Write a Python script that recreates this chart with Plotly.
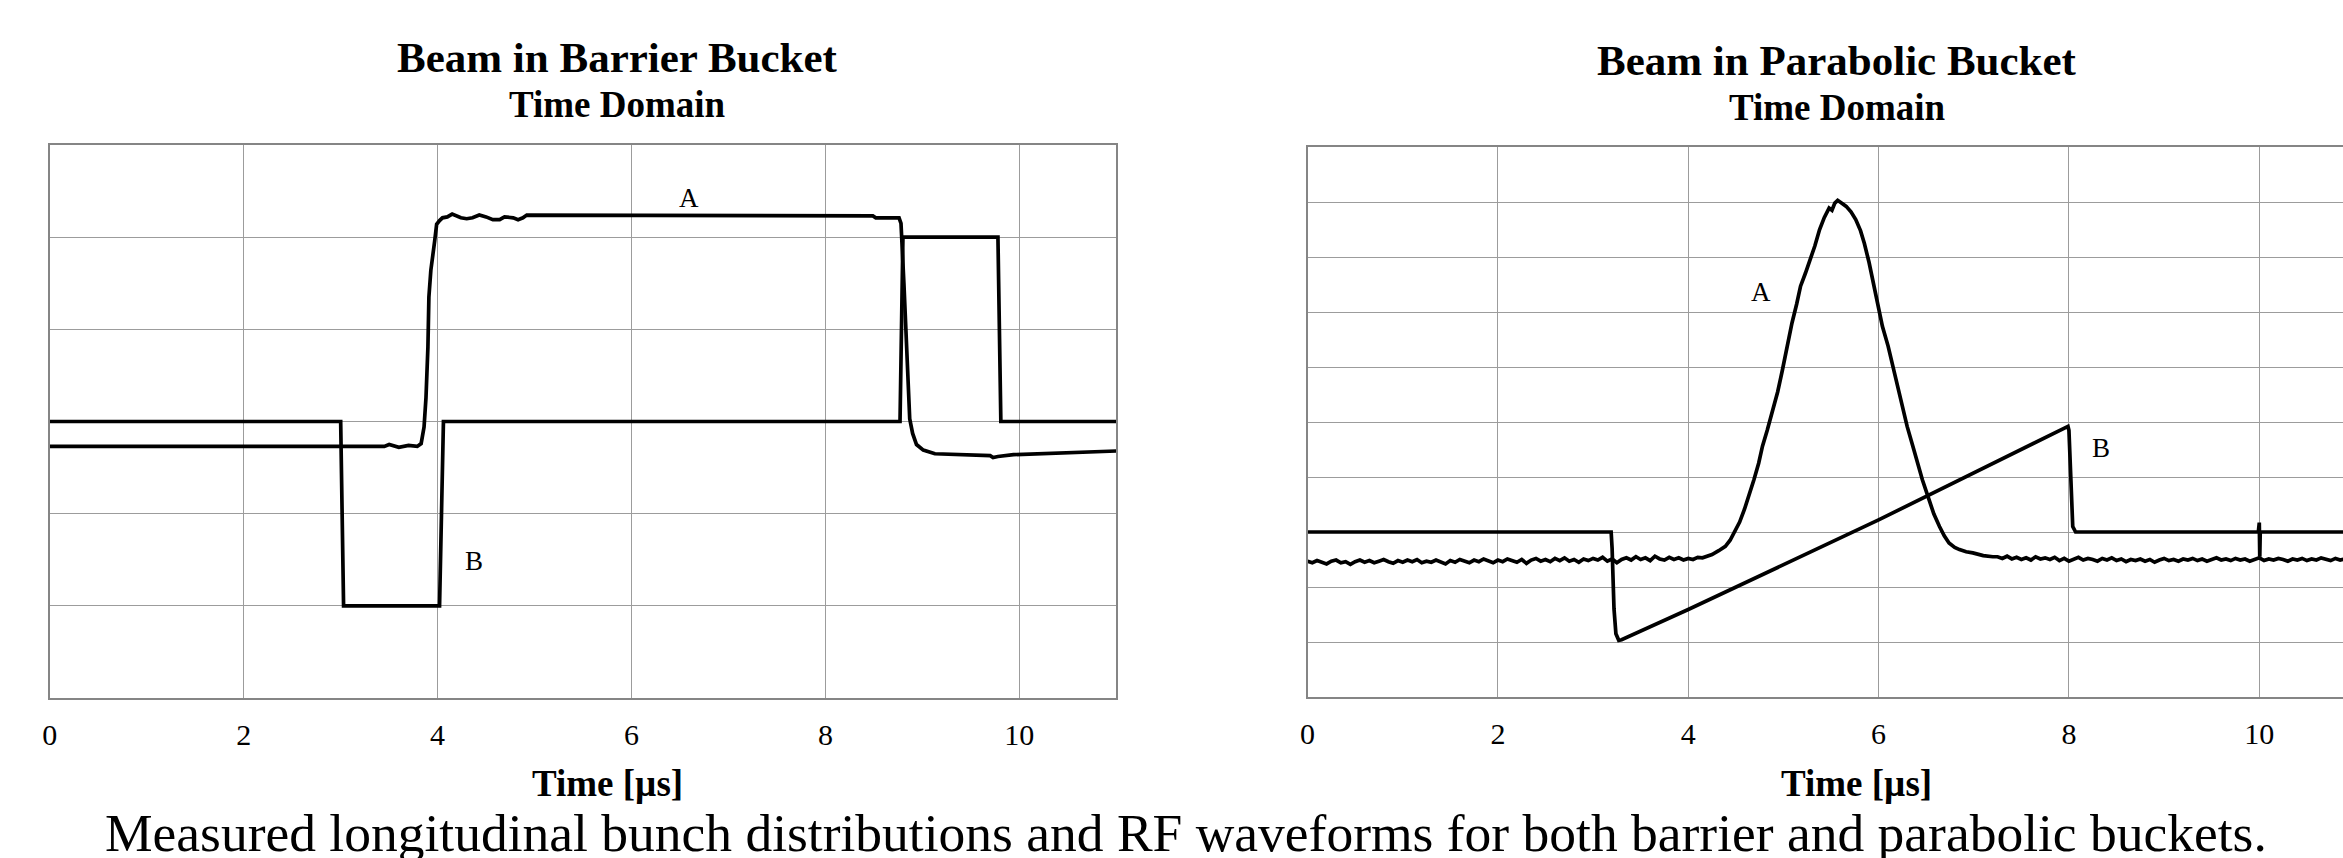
import plotly.graph_objects as go

W, H = 2343, 858

# ---------------- Data: Beam in Barrier Bucket (left) ----------------
bar_A_t = [0.0, 3.45, 3.50, 3.60, 3.70, 3.79, 3.83, 3.86, 3.88, 3.90, 3.91, 3.93, 3.97, 3.99,
           4.02, 4.05, 4.10, 4.15, 4.24, 4.30, 4.36, 4.43, 4.50, 4.57, 4.64, 4.69, 4.78, 4.83,
           4.88, 4.92, 8.49, 8.52, 8.76, 8.78, 8.81, 8.84, 8.87, 8.90, 8.94, 9.01, 9.13, 9.70,
           9.73, 9.78, 9.94, 11.0]
bar_A_v = [2.73, 2.73, 2.75, 2.72, 2.74, 2.73, 2.76, 2.94, 3.26, 3.81, 4.35, 4.64, 4.96, 5.14,
           5.18, 5.21, 5.22, 5.25, 5.21, 5.20, 5.21, 5.24, 5.22, 5.19, 5.19, 5.22, 5.21, 5.19,
           5.21, 5.24, 5.23, 5.21, 5.21, 5.15, 4.50, 3.75, 3.03, 2.87, 2.75, 2.69, 2.65, 2.63,
           2.61, 2.62, 2.64, 2.68]
bar_B_t = [0.0, 3.00, 3.03, 4.02, 4.06, 8.77, 8.80, 9.78, 9.81, 11.0]
bar_B_v = [3.0, 3.00, 1.00, 1.00, 3.00, 3.00, 5.00, 5.00, 3.00, 3.0]

# ---------------- Data: Beam in Parabolic Bucket (right) ----------------
# sampled bunch signal, baseline before the bunch (0.00 .. 4.20 us, every 0.05 us)
par_A_pre_v = [2.47, 2.44, 2.48, 2.45, 2.42, 2.47, 2.49, 2.44, 2.46, 2.41,
               2.46, 2.49, 2.45, 2.48, 2.44, 2.47, 2.50, 2.46, 2.43, 2.48,
               2.45, 2.49, 2.46, 2.50, 2.44, 2.47, 2.45, 2.49, 2.46, 2.42,
               2.48, 2.45, 2.50, 2.47, 2.44, 2.49, 2.46, 2.51, 2.47, 2.44,
               2.49, 2.46, 2.51, 2.48, 2.45, 2.50, 2.43, 2.49, 2.52, 2.47,
               2.50, 2.46, 2.52, 2.48, 2.53, 2.47, 2.50, 2.45, 2.51, 2.48,
               2.52, 2.49, 2.54, 2.47, 2.51, 2.44, 2.50, 2.53, 2.49, 2.55,
               2.50, 2.53, 2.48, 2.56, 2.51, 2.49, 2.54, 2.50, 2.53, 2.49,
               2.52, 2.50, 2.54, 2.53, 2.56]
par_A_peak_t = [4.25, 4.32, 4.39, 4.44, 4.48, 4.54, 4.59, 4.64, 4.69, 4.74, 4.78, 4.83, 4.88,
                4.94, 4.99, 5.04, 5.09, 5.14, 5.18, 5.23, 5.27, 5.33, 5.38, 5.43, 5.48, 5.51,
                5.54, 5.57, 5.61, 5.66, 5.71, 5.76, 5.81, 5.85, 5.90, 5.95, 6.00, 6.04, 6.10,
                6.15, 6.20, 6.25, 6.30, 6.36, 6.41, 6.46, 6.53, 6.58, 6.64, 6.69, 6.74, 6.80,
                6.85, 6.92, 6.99, 7.10, 7.20]
par_A_peak_v = [2.59, 2.66, 2.74, 2.85, 2.98, 3.18, 3.41, 3.67, 3.95, 4.25, 4.56, 4.85, 5.16,
                5.55, 5.95, 6.38, 6.80, 7.15, 7.47, 7.70, 7.89, 8.20, 8.50, 8.72, 8.89, 8.85,
                8.98, 9.03, 8.98, 8.92, 8.82, 8.68, 8.48, 8.25, 7.90, 7.47, 7.10, 6.74, 6.38,
                6.01, 5.65, 5.28, 4.92, 4.56, 4.25, 3.95, 3.59, 3.33, 3.10, 2.93, 2.80, 2.72,
                2.68, 2.64, 2.62, 2.57, 2.55]
# baseline after the bunch (7.25 .. 11.00 us, every 0.05 us)
par_A_post_v = [2.55, 2.52, 2.56, 2.51, 2.54, 2.50, 2.53, 2.49, 2.55, 2.51,
                2.53, 2.50, 2.54, 2.48, 2.52, 2.47, 2.51, 2.54, 2.49, 2.52,
                2.50, 2.47, 2.52, 2.49, 2.53, 2.48, 2.51, 2.46, 2.50, 2.48,
                2.51, 2.47, 2.50, 2.45, 2.49, 2.52, 2.48, 2.50, 2.47, 2.51,
                2.49, 2.52, 2.48, 2.51, 2.47, 2.50, 2.53, 2.49, 2.51, 2.48,
                2.52, 2.49, 2.51, 2.47, 2.50, 2.53, 2.48, 2.51, 2.49, 2.52,
                2.50, 2.47, 2.51, 2.49, 2.52, 2.48, 2.51, 2.49, 2.53, 2.50,
                2.48, 2.52, 2.49, 2.51, 2.50, 2.52]
par_B_t = [0.0, 3.19, 3.20, 3.22, 3.24, 3.27, 3.30, 4.00, 6.00, 7.99, 8.00, 8.02, 8.04, 8.07,
           9.99, 10.00, 10.005, 10.01, 11.0]
par_B_v = [3.0, 3.00, 2.70, 1.60, 1.15, 1.03, 1.04, 1.59, 3.22, 4.92, 4.85, 3.95, 3.10, 3.00,
           3.00, 3.17, 2.55, 3.00, 3.0]

tick_vals = [0, 2, 4, 6, 8, 10]
tick_text = ["0", "2", "4", "6", "8", "10"]

# assemble right-panel bunch trace (oscilloscope sample times)
par_A_t = ([round(0.05 * i, 2) for i in range(len(par_A_pre_v))] + par_A_peak_t +
           [round(7.25 + 0.05 * i, 2) for i in range(len(par_A_post_v))])
par_A_v = par_A_pre_v + par_A_peak_v + par_A_post_v

SERIF = "Liberation Serif, Times New Roman, serif"
LINE = dict(color="black", width=3.7)

fig = go.Figure()
fig.add_trace(go.Scatter(x=bar_A_t, y=bar_A_v, mode="lines", line=LINE, xaxis="x", yaxis="y",
                         showlegend=False, hoverinfo="skip"))
fig.add_trace(go.Scatter(x=bar_B_t, y=bar_B_v, mode="lines", line=LINE, xaxis="x", yaxis="y",
                         showlegend=False, hoverinfo="skip"))
fig.add_trace(go.Scatter(x=par_B_t, y=par_B_v, mode="lines", line=LINE, xaxis="x2", yaxis="y2",
                         showlegend=False, hoverinfo="skip"))
fig.add_trace(go.Scatter(x=par_A_t, y=par_A_v, mode="lines", line=LINE, xaxis="x2", yaxis="y2",
                         showlegend=False, hoverinfo="skip"))

def px_x(p):
    return p / W

def px_y(p):
    return 1 - p / H

GRID = "#9c9c9c"
FRAME = "#858585"
TICKFONT = dict(family=SERIF, size=30, color="black")

xcommon = dict(tickvals=tick_vals, ticktext=tick_text, showgrid=True, gridcolor=GRID, gridwidth=1,
               zeroline=False, showline=True, linecolor=FRAME, linewidth=2, mirror=True,
               ticks="outside", ticklen=9, tickcolor="rgba(0,0,0,0)", tickfont=TICKFONT,
               fixedrange=True)
ycommon = dict(showgrid=True, gridcolor=GRID, gridwidth=1, zeroline=False, showticklabels=False,
               showline=True, linecolor=FRAME, linewidth=2, dtick=1, fixedrange=True)

fig.update_layout(
    width=W, height=H, margin=dict(l=0, r=0, t=0, b=0),
    paper_bgcolor="white", plot_bgcolor="white",
    xaxis=dict(domain=[px_x(42), px_x(1112)], range=[0, 11], anchor="y", **xcommon),
    yaxis=dict(domain=[px_y(698), px_y(145)], range=[0, 6], anchor="x", mirror=True,
               **ycommon),
    xaxis2=dict(domain=[px_x(1304), 1.0], range=[0, (W - 1304) / 95.5], anchor="y2",
                **xcommon),
    yaxis2=dict(domain=[px_y(697), px_y(147)], range=[0, 10], anchor="x2", mirror=False,
                **ycommon),
)

ann = []
def title(text, x, y, size, bold=True):
    ann.append(dict(text=f"<b>{text}</b>" if bold else text, x=px_x(x), y=px_y(y), xref="paper",
                    yref="paper", showarrow=False, xanchor="center", yanchor="middle",
                    font=dict(family=SERIF, size=size, color="black")))

title("Beam in Barrier Bucket", 612, 57, 43)
title("Time Domain", 612, 104, 37)
title("Beam in Parabolic Bucket", 1835, 61, 43)
title("Time Domain", 1836, 108, 37)
title("Time [µs]", 602, 783, 37)
title("Time [µs]", 1855, 783, 37)
title("Measured longitudinal bunch distributions and RF waveforms for both barrier and parabolic buckets.",
      1182, 833, 53.5, bold=False)

def label(text, x, y, xr, yr):
    ann.append(dict(text=text, x=x, y=y, xref=xr, yref=yr, showarrow=False, xanchor="center",
                    yanchor="middle", font=dict(family=SERIF, size=27, color="black")))

label("A", 6.59, 5.43, "x", "y")
label("B", 4.38, 1.49, "x", "y")
label("A", 4.76, 7.36, "x2", "y2")
label("B", 8.34, 4.52, "x2", "y2")

fig.update_layout(annotations=ann)
fig.write_html("out.html", config={"displayModeBar": False})
